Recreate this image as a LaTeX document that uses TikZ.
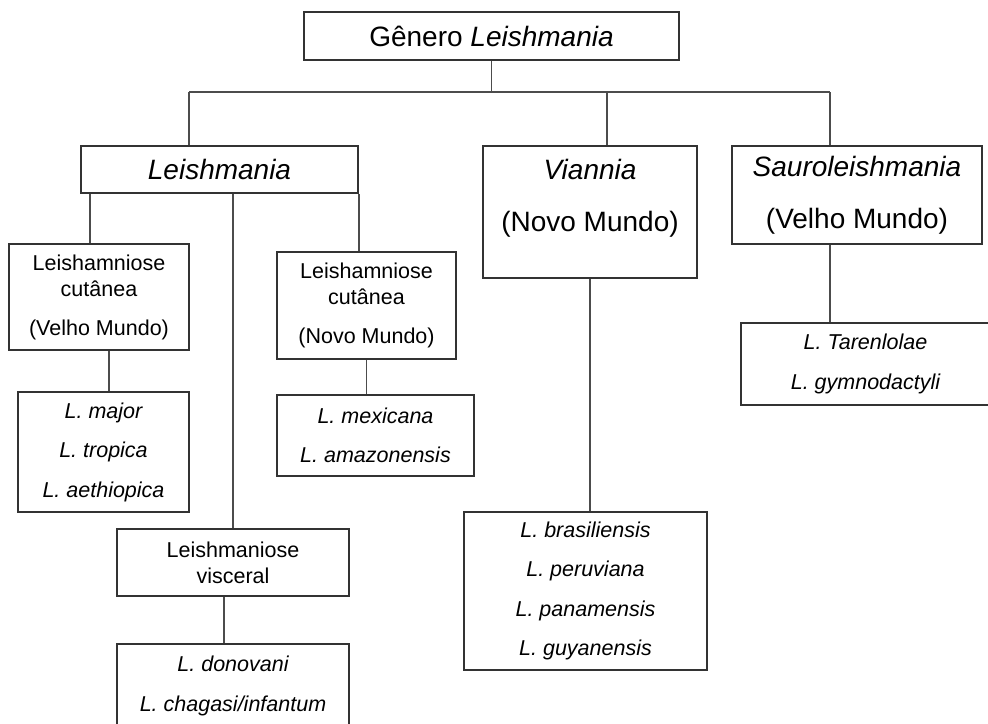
\documentclass[tikz,border=0pt]{standalone}
\usepackage{fontspec}
\setmainfont{Liberation Sans}
\begin{document}
\begin{tikzpicture}[x=1pt,y=-1pt,
    taxbox/.style={draw=black!80,line width=2pt,inner sep=0pt,align=center,font=\fontsize{28}{52}\selectfont},
    formbox/.style={draw=black!80,line width=2pt,inner sep=0pt,align=center,font=\fontsize{21.5}{26}\selectfont},
    spbox/.style={draw=black!80,line width=2pt,inner sep=0pt,align=center,font=\fontsize{21.5}{39.5}\selectfont\itshape},
    link/.style={draw=black!70,line width=1.2pt}]
    \clip (0,0) rectangle (988,723);
    \fill[white] (0,0) rectangle (988,723);
    \node[taxbox,minimum width=375pt,minimum height=48pt] (genero) at (491.5,36) {Gênero \textit{Leishmania}};
    \node[taxbox,minimum width=277pt,minimum height=47pt] (leish) at (219.5,169.5) {\textit{Leishmania}};
    \node[taxbox,minimum width=214pt,minimum height=132pt] (viannia) at (590,212) {\textit{Viannia}\\(Novo Mundo)\rule[-33pt]{0pt}{33pt}};
    \node[taxbox,minimum width=250pt,minimum height=98pt] (sauro) at (857,195) {\textit{Sauroleishmania}\\(Velho Mundo)};
    \node[formbox,minimum width=180pt,minimum height=106pt] (lcv) at (99,297) {Leishamniose\\cutânea\\[13pt](Velho Mundo)};
    \node[formbox,minimum width=179pt,minimum height=107pt] (lcn) at (366.5,305.5) {Leishamniose\\cutânea\\[13pt](Novo Mundo)};
    \node[formbox,minimum width=232pt,minimum height=67pt] (lvis) at (233,562.5) {Leishmaniose\\visceral};
    \node[spbox,minimum width=171pt,minimum height=120pt] (spv) at (103.5,452) {L. major\\L. tropica\\L. aethiopica};
    \node[spbox,minimum width=197pt,minimum height=81pt] (spn) at (375.5,435.5) {L. mexicana\\L. amazonensis};
    \node[spbox,minimum width=232pt,minimum height=84pt] (spvis) at (233,686) {L. donovani\\L. chagasi/infantum};
    \node[spbox,minimum width=243pt,minimum height=158pt] (spvian) at (585.5,591) {L. brasiliensis\\L. peruviana\\L. panamensis\\L. guyanensis};
    \node[spbox,minimum width=249pt,minimum height=82pt] (spsauro) at (865.5,364) {L. Tarenlolae\\L. gymnodactyli};
    \coordinate (jL) at (189,92);
    \coordinate (jV) at (607,92);
    \coordinate (jS) at (830,92);
    \draw[link] (genero.south) -- (genero.south |- jL);
    \draw[link] (jL) -- (jS);
    \draw[link] (jL) -- (jL |- leish.north);
    \draw[link] (jV) -- (jV |- viannia.north);
    \draw[link] (jS) -- (jS |- sauro.north);
    \draw[link] ([xshift=-9pt]lcv.north) -- ([xshift=-9pt]lcv.north |- leish.south);
    \draw[link] (lvis.north) -- (lvis.north |- leish.south);
    \draw[link] (leish.south east) -- (leish.south east |- lcn.north);
    \draw[link] ([xshift=10pt]lcv.south) -- ([xshift=10pt]lcv.south |- spv.north);
    \draw[link] (lcn.south) -- (lcn.south |- spn.north);
    \draw[link] ([xshift=-9pt]lvis.south) -- ([xshift=-9pt]lvis.south |- spvis.north);
    \draw[link] (viannia.south) -- (viannia.south |- spvian.north);
    \draw[link] (jS |- sauro.south) -- (jS |- spsauro.north);
\end{tikzpicture}
\end{document}
